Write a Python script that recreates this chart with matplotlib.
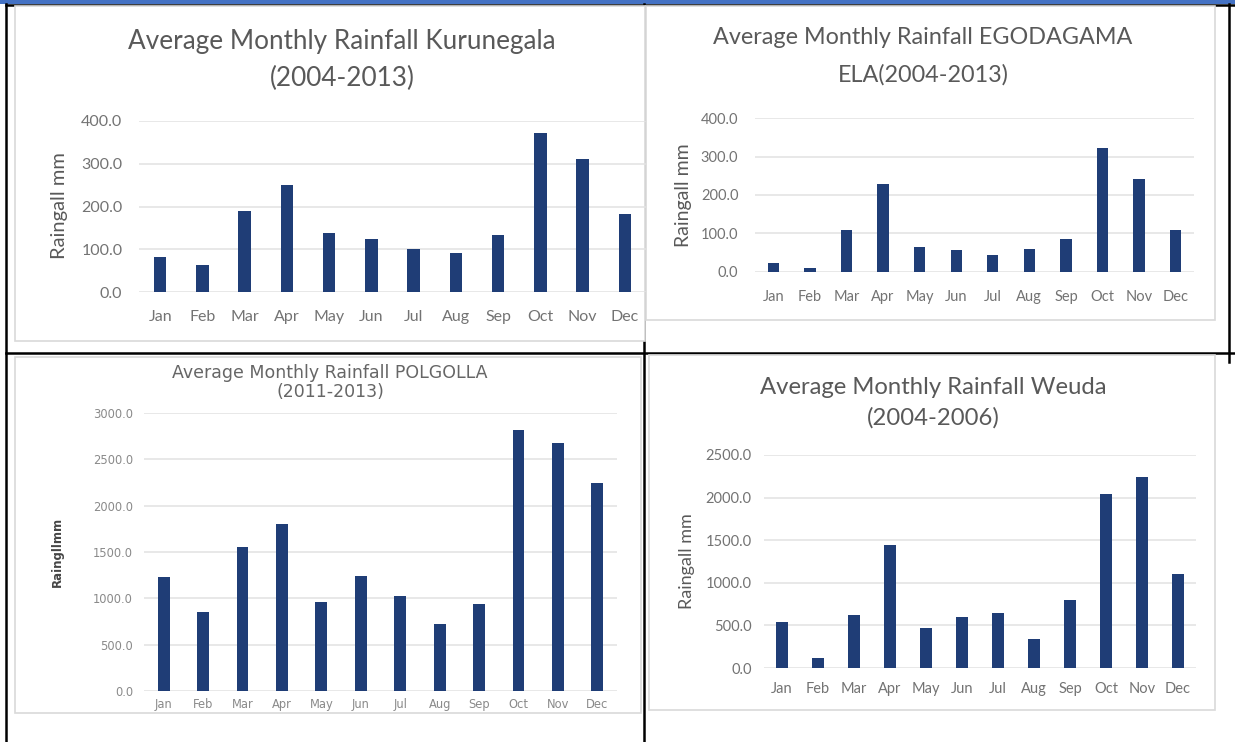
import numpy as np
import matplotlib.pyplot as plt
from matplotlib.lines import Line2D
from matplotlib.patches import Rectangle
from matplotlib.ticker import FormatStrFormatter

W, H = 1235, 742

months = ['Jan', 'Feb', 'Mar', 'Apr', 'May', 'Jun',
          'Jul', 'Aug', 'Sep', 'Oct', 'Nov', 'Dec']

# average monthly rainfall (mm)
kurunegala = [82, 62, 190, 251, 139, 125, 101, 92, 134, 373, 312, 183]
egodagama = [24, 11, 110, 228, 65, 57, 45, 59, 85, 322, 242, 109]
polgolla = [1227, 849, 1550, 1802, 964, 1237, 1029, 723, 942, 2820, 2680, 2248]
weuda = [541, 121, 619, 1442, 474, 600, 647, 337, 795, 2041, 2245, 1109]

BAR = '#1f3d76'
GRID = '#e2e2e2'
TXT = '#595959'
TICK = '#737373'

plt.rcParams['font.family'] = ['Lato', 'DejaVu Sans']

fig = plt.figure(figsize=(W / 100, H / 100), dpi=100)


def fx(x):
    return x / W


def fy(y):
    return 1 - y / H


def hline(x0, x1, y, **kw):
    fig.add_artist(Line2D([fx(x0), fx(x1)], [fy(y), fy(y)], transform=fig.transFigure, **kw))


def vline(x, y0, y1, **kw):
    fig.add_artist(Line2D([fx(x), fx(x)], [fy(y0), fy(y1)], transform=fig.transFigure, **kw))


def panel(x0, y0, x1, y1):
    fig.add_artist(Rectangle((fx(x0), fy(y1)), (x1 - x0) / W, (y1 - y0) / H,
                             transform=fig.transFigure, facecolor='white',
                             edgecolor='#d9d9d9', lw=1.2, zorder=1))


def chart(box, values, ymax, step, width, tsize, xpad, ypad, family=None, tcolor=TICK):
    l, t, r, b = box
    ax = fig.add_axes([fx(l), fy(b), (r - l) / W, (b - t) / H])
    ax.set_zorder(3)
    ax.patch.set_alpha(0)
    ax.bar(np.arange(len(months)), values, width=width, color=BAR, zorder=2)
    ax.set_xlim(-0.5, len(months) - 0.5)
    ax.set_ylim(0, ymax)
    ax.set_yticks(np.arange(0, ymax + 1, step))
    ax.yaxis.set_major_formatter(FormatStrFormatter('%.1f'))
    ax.set_xticks(np.arange(len(months)))
    ax.set_xticklabels(months)
    ax.grid(axis='y', color=GRID, lw=1.1, zorder=0)
    ax.set_axisbelow(True)
    for s in ax.spines.values():
        s.set_visible(False)
    ax.tick_params(axis='x', length=0, pad=xpad, labelsize=tsize, labelcolor=tcolor)
    ax.tick_params(axis='y', length=0, pad=ypad, labelsize=tsize, labelcolor=tcolor)
    if family:
        for lab in ax.get_xticklabels() + ax.get_yticklabels():
            lab.set_family(family)
    return ax


def text(x, y, s, size, **kw):
    kw.setdefault('color', TXT)
    fig.text(fx(x), fy(y), s, fontsize=size, ha='center', va='center', **kw)


# table frame
fig.add_artist(Rectangle((0, fy(4)), 1, 4 / H, transform=fig.transFigure,
                         facecolor='#4472c4', edgecolor='none', zorder=0))
line_kw = dict(color='black', lw=1.8, zorder=0)
hline(6, W, 5, **line_kw)
vline(6, 4, H, **line_kw)
vline(644, 4, H, **line_kw)
hline(6, W, 353, **line_kw)
vline(1229, 4, 362, **line_kw)

# chart panels
panel(15, 6, 645, 341)
panel(646, 6, 1215, 320)
panel(15, 357, 641, 713)
panel(649, 355, 1215, 710)

# Kurunegala
chart((139, 121, 646, 292), kurunegala, 400, 100, 0.3, 11.5, 13, 12)
text(342, 42, 'Average Monthly Rainfall Kurunegala', 18.8)
text(342, 78, '(2004-2013)', 18.8)
text(59, 206, 'Raingall mm', 14.5, rotation=90)

# Egodagama Ela
chart((755, 118, 1194, 272), egodagama, 400, 100, 0.31, 10.5, 13, 12)
text(923, 38, 'Average Monthly Rainfall EGODAGAMA', 16.8)
text(923, 75, 'ELA(2004-2013)', 16.8)
text(683, 195, 'Raingall mm', 14, rotation=90)

# Polgolla
chart((144, 413, 617, 691), polgolla, 3000, 500, 0.3, 8.3, 5, 8,
      family='DejaVu Sans', tcolor='#8a8a8a')
text(330, 373, 'Average Monthly Rainfall POLGOLLA', 12.5, family='DejaVu Sans', color='#666666')
text(330, 392, '(2011-2013)', 12.5, family='DejaVu Sans', color='#666666')
text(57, 552, 'Raingllmm', 8.5, rotation=90, family='DejaVu Sans',
     color='#454545', fontweight='bold')

# Weuda
chart((764, 455, 1196, 668), weuda, 2500, 500, 0.32, 10.5, 10, 9)
text(933, 387, 'Average Monthly Rainfall Weuda', 17.2)
text(933, 418, '(2004-2006)', 17.2)
text(687, 561, 'Raingall mm', 13, rotation=90)

fig.savefig('out.png', dpi=100, facecolor='white')
